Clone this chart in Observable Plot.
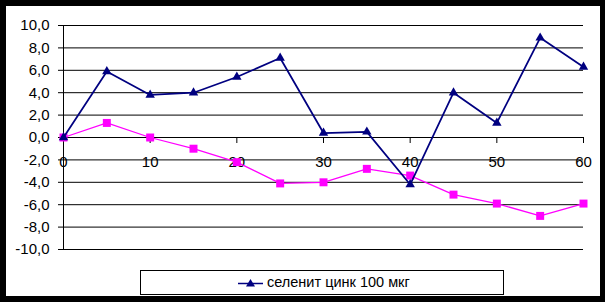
<!DOCTYPE html>
<html>
<head>
<meta charset="utf-8">
<script src="https://cdn.jsdelivr.net/npm/d3@7"></script>
<script src="https://cdn.jsdelivr.net/npm/@observablehq/plot@0.6"></script>
<style>
  html, body { margin: 0; padding: 0; background: #000; }
  body { width: 605px; height: 302px; position: relative; overflow: hidden; font-family: "Liberation Sans", Arial, sans-serif; }
  #wrap { position: absolute; left: 6px; top: 6px; width: 594px; height: 290px; background: #fff; }
  #chart svg { display: block; }
  #legend { position: absolute; left: 134px; top: 264px; width: 364px; height: 25px; box-sizing: border-box; border: 1px solid #000; background: #fff; }
  #legend svg { position: absolute; left: 0; top: 0; }
  #legend span { position: absolute; left: 126px; top: 3px; font-size: 14.5px; color: #000; white-space: nowrap; }
</style>
</head>
<body>
<div id="wrap">
  <div id="chart"></div>
  <div id="legend">
    <svg width="140" height="23"><line x1="97" x2="122" y1="12.5" y2="12.5" stroke="#000080" stroke-width="1.5"/><path d="M109.5,8 L114,15.5 L105,15.5 Z" fill="#000080"/></svg>
    <span id="legtext"></span>
  </div>
</div>
<script>
const times = [0, 5, 10, 15, 20, 25, 30, 35, 40, 45, 50, 55, 60];
const selenite = [0, 5.9, 3.8, 4.0, 5.4, 7.1, 0.4, 0.5, -4.2, 4.0, 1.3, 8.9, 6.3];
const control = [0, 1.3, 0.0, -1.0, -2.2, -4.1, -4.0, -2.8, -3.4, -5.1, -5.9, -7.0, -5.9];
const yTicks = [-10, -8, -6, -4, -2, 0, 2, 4, 6, 8, 10];
const xTicks = [0, 10, 20, 30, 40, 50, 60];
const seriesName = "селенит цинк 100 мкг";

const blue = times.map((t, i) => ({x: t, y: selenite[i]}));
const pink = times.map((t, i) => ({x: t, y: control[i]}));

const fmt = d => d.toFixed(1).replace(".", ",");
const tickLen = 6 / 11.2;

const chart = Plot.plot({
  width: 594,
  height: 258,
  marginLeft: 57,
  marginRight: 17,
  marginTop: 19,
  marginBottom: 15,
  style: {fontFamily: "Liberation Sans, Arial, sans-serif", fontSize: "15px", background: "#fff", color: "#000"},
  x: {domain: [0, 60], axis: null},
  y: {domain: [-10, 10]},
  marks: [
    Plot.ruleY(yTicks, {stroke: "#000", strokeWidth: 1}),
    Plot.ruleX([0], {y1: -10, y2: 10, stroke: "#000", strokeWidth: 1}),
    Plot.axisY({ticks: yTicks, tickFormat: fmt, tickSize: 5, tickPadding: 9, fontSize: 15, stroke: "#000", label: null}),
    Plot.ruleX(xTicks, {x: d => d, y1: 0, y2: -tickLen, stroke: "#000"}),
    Plot.text(xTicks, {x: d => d, y: 0, dy: 25, text: d => String(d), fontSize: 15, fill: "#000"}),
    Plot.line(pink, {x: "x", y: "y", stroke: "#ff00ff", strokeWidth: 1.25}),
    Plot.dot(pink, {x: "x", y: "y", symbol: "square", fill: "#ff00ff", r: 4.5}),
    Plot.line(blue, {x: "x", y: "y", stroke: "#000080", strokeWidth: 1.75}),
    Plot.dot(blue, {x: "x", y: "y", symbol: "triangle", fill: "#000080", r: 3.5})
  ]
});
document.getElementById("chart").appendChild(chart);
document.getElementById("legtext").textContent = seriesName;
</script>
</body>
</html>
